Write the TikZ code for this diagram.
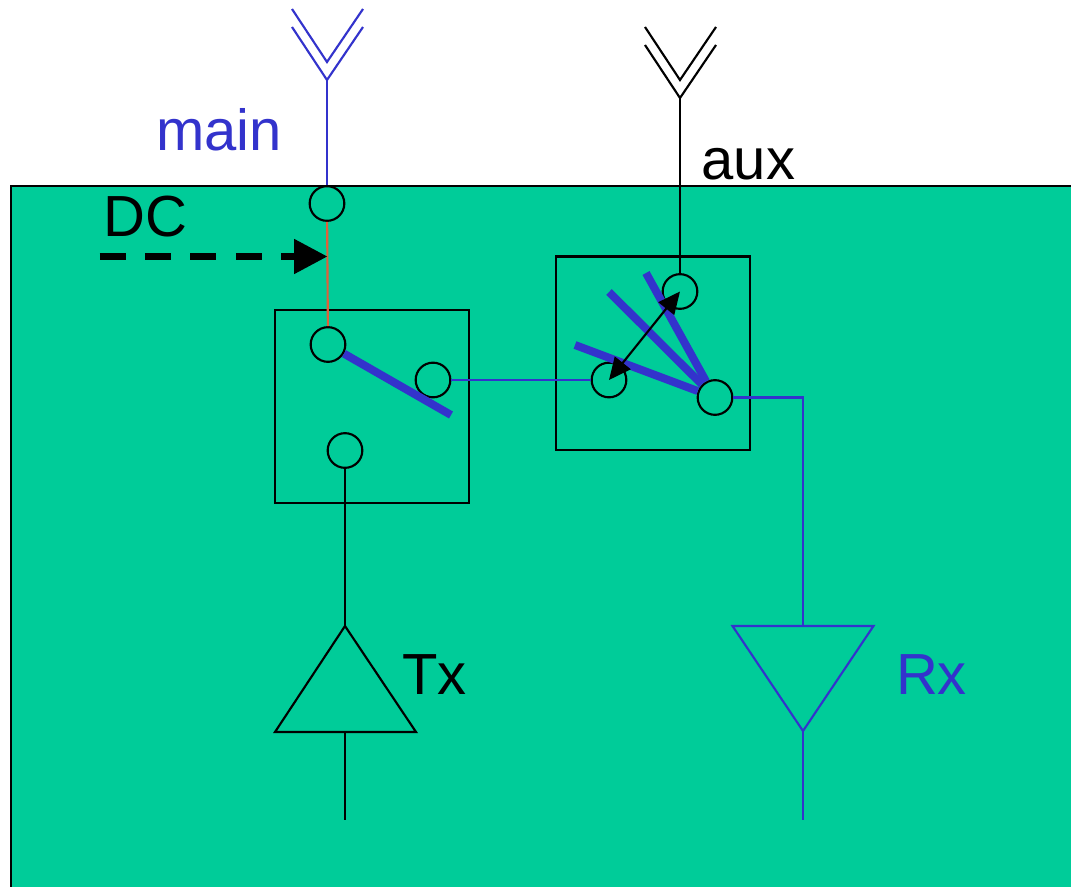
\documentclass[tikz,border=0pt]{standalone}
\usepackage{fontspec}
\setmainfont{Liberation Sans}
\usetikzlibrary{arrows.meta}
\definecolor{boardgreen}{HTML}{00CC99}
\definecolor{wireblue}{HTML}{3333CC}
\definecolor{dcred}{HTML}{E0603A}
\tikzset{
  port/.style={circle,draw,minimum size=26pt,inner sep=0pt,line width=1.6pt},
  wire/.style={line width=1.6pt},
  blade/.style={wireblue,line width=6pt},
  box/.style={draw,line width=1.6pt},
  label/.style={font=\fontsize{43.5}{50}\selectfont}
}
\begin{document}
\begin{tikzpicture}[x=0.75pt,y=-0.75pt]
  \useasboundingbox (0,0) rectangle (1071,887);
  \fill[boardgreen,draw=black,line width=1.5pt] (10.9,186) rectangle (1090,900);
  \draw[box] (275,310) rectangle (469,503);
  \draw[box] (556,256.5) rectangle (750,450);

  \node[port] (Nfeed)   at (327,203.5) {};
  \node[port] (Ncommon) at (328,344.5) {};
  \node[port] (Nthrow)  at (433,380)   {};
  \node[port] (Ntx)     at (345,450.5) {};
  \node[port] (Naux)    at (680,291.5) {};
  \node[port] (Nsel)    at (609,380)   {};
  \node[port] (Nhub)    at (715,397.5) {};

  \coordinate (Amain) at (327,80);
  \coordinate (Bmain) at (327,62);
  \coordinate (Aaux)  at (680,98);
  \coordinate (Baux)  at (680,80);
  \coordinate (Ttx)   at (345,626);
  \coordinate (Ltx)   at (275,732);
  \coordinate (Rtx)   at (416,732);
  \coordinate (Mtx)   at (345,732);
  \coordinate (Etx)   at (345,820);
  \coordinate (Lrx)   at (732.5,626);
  \coordinate (Rrx)   at (873.5,626);
  \coordinate (Mrx)   at (803,626);
  \coordinate (Brx)   at (803,731);
  \coordinate (Erx)   at (803,820);
  \coordinate (Drx)   at (803,397.5);
  \coordinate (Dc)    at (99.5,256.5);
  \coordinate (Dcend) at (327.5,256.5);

  % antennas
  \draw[wire,wireblue] (292,27) -- (Amain) -- (363,27);
  \draw[wire,wireblue] (292,9) -- (Bmain) -- (363,9);
  \draw[wire,wireblue] (Amain) -- (Nfeed);
  \draw[wire] (645,45) -- (Aaux) -- (716,45);
  \draw[wire] (645,27) -- (Baux) -- (716,27);
  \draw[wire] (Aaux) -- (Naux);

  \path[wire,draw=dcred] (Nfeed) edge (Ncommon);
  \path[wire,draw=wireblue] (Nthrow) edge (Nsel);
  \draw[wire,wireblue] (Nhub) -- (Drx) -- (Mrx);
  \draw[wire] (Ntx) -- (Ttx);

  % amplifiers
  \draw[wire] (Ttx) -- (Ltx) -- (Rtx) -- cycle;
  \draw[wire] (Mtx) -- (Etx);
  \draw[wire,wireblue] (Lrx) -- (Rrx) -- (Brx) -- cycle;
  \draw[wire,wireblue] (Brx) -- (Erx);

  % switch blades
  \draw[blade] (Ncommon) -- (451,415);
  \draw[blade] (Nhub) -- (646,273);
  \draw[blade] (Nhub) -- (609,292);
  \draw[blade] (Nhub) -- (575,345);
  \draw[wire,{Triangle[length=16.5pt,width=15pt]}-{Triangle[length=16.5pt,width=15pt]}] (Nsel.center) -- (Naux.center);

  \draw[line width=5pt,dash pattern=on 19.5pt off 14.6pt,-{Triangle[length=25pt,width=25pt]}] (Dc) -- (Dcend);

  \node[label,text=wireblue] (Lmain) at (219,129.5) {main};
  \node[label] (Laux) at (748.5,164) {aux};
  \node[label] (Ldc)  at (145.5,217) {DC};
  \node[label] (Ltxt) at (434.5,675) {Tx};
  \node[label,text=wireblue] (Lrxt) at (931.5,675) {Rx};
\end{tikzpicture}
\end{document}
